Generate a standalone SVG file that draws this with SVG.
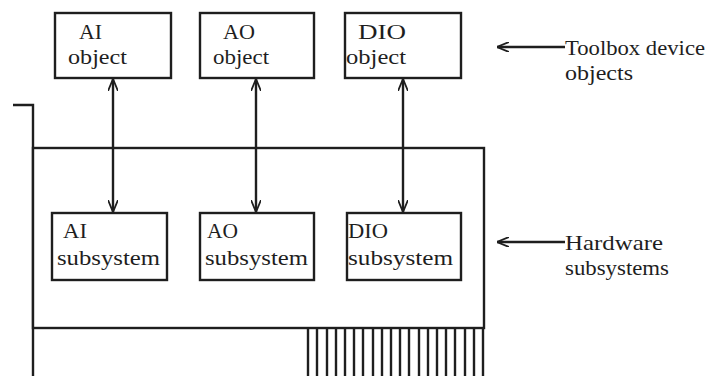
<svg xmlns="http://www.w3.org/2000/svg" width="723" height="376" viewBox="0 0 723 376">
<style>
.box{fill:#fff;stroke:#1e1e1e;stroke-width:2.4}
.ln{fill:none;stroke:#1e1e1e;stroke-width:2.4}
.pin{stroke:#1e1e1e;stroke-width:2.4}
text{font-family:"Liberation Serif","DejaVu Serif","Times New Roman",serif;font-size:21px;fill:#1e1e1e}
</style>
<defs>
<marker id="ah" viewBox="0 0 12 10" refX="12" refY="5" markerWidth="12" markerHeight="10" markerUnits="userSpaceOnUse" orient="auto-start-reverse">
<path d="M0,0 L12,5 L0,10" fill="none" stroke="#1e1e1e" stroke-width="1.8"/>
</marker>
</defs>
<g id="board">
<path class="ln" d="M13,105 H33 V376"/>
<rect class="box" x="33" y="148" width="451" height="180" fill="none"/>
<g id="pins">
<line class="pin" x1="308" y1="328" x2="308" y2="376"/>
<line class="pin" x1="317" y1="328" x2="317" y2="376"/>
<line class="pin" x1="327" y1="328" x2="327" y2="376"/>
<line class="pin" x1="336" y1="328" x2="336" y2="376"/>
<line class="pin" x1="345" y1="328" x2="345" y2="376"/>
<line class="pin" x1="354" y1="328" x2="354" y2="376"/>
<line class="pin" x1="363" y1="328" x2="363" y2="376"/>
<line class="pin" x1="373" y1="328" x2="373" y2="376"/>
<line class="pin" x1="382" y1="328" x2="382" y2="376"/>
<line class="pin" x1="391" y1="328" x2="391" y2="376"/>
<line class="pin" x1="400" y1="328" x2="400" y2="376"/>
<line class="pin" x1="409" y1="328" x2="409" y2="376"/>
<line class="pin" x1="419" y1="328" x2="419" y2="376"/>
<line class="pin" x1="428" y1="328" x2="428" y2="376"/>
<line class="pin" x1="437" y1="328" x2="437" y2="376"/>
<line class="pin" x1="446" y1="328" x2="446" y2="376"/>
<line class="pin" x1="455" y1="328" x2="455" y2="376"/>
<line class="pin" x1="465" y1="328" x2="465" y2="376"/>
<line class="pin" x1="474" y1="328" x2="474" y2="376"/>
<line class="pin" x1="483" y1="328" x2="483" y2="376"/>
</g>
</g>
<g id="ai-object">
<rect class="box" x="55" y="13" width="116" height="65"/>
<text x="79" y="39" textLength="23" lengthAdjust="spacingAndGlyphs">AI</text>
<text x="68" y="64" textLength="59" lengthAdjust="spacingAndGlyphs">object</text>
</g>
<g id="ao-object">
<rect class="box" x="200" y="13" width="114" height="65"/>
<text x="223" y="39" textLength="32" lengthAdjust="spacingAndGlyphs">AO</text>
<text x="213" y="64" textLength="56" lengthAdjust="spacingAndGlyphs">object</text>
</g>
<g id="dio-object">
<rect class="box" x="345" y="13" width="116" height="65"/>
<text x="358" y="39" textLength="48" lengthAdjust="spacingAndGlyphs">DIO</text>
<text x="346" y="64" textLength="60" lengthAdjust="spacingAndGlyphs">object</text>
</g>
<g id="ai-subsystem">
<rect class="box" x="52" y="213" width="115" height="67"/>
<text x="63" y="238" textLength="24" lengthAdjust="spacingAndGlyphs">AI</text>
<text x="57" y="265" textLength="103" lengthAdjust="spacingAndGlyphs">subsystem</text>
</g>
<g id="ao-subsystem">
<rect class="box" x="200" y="213" width="114" height="67"/>
<text x="207" y="238" textLength="31" lengthAdjust="spacingAndGlyphs">AO</text>
<text x="205" y="265" textLength="103" lengthAdjust="spacingAndGlyphs">subsystem</text>
</g>
<g id="dio-subsystem">
<rect class="box" x="347" y="213" width="114" height="67"/>
<text x="348" y="238" textLength="40" lengthAdjust="spacingAndGlyphs">DIO</text>
<text x="348" y="265" textLength="105" lengthAdjust="spacingAndGlyphs">subsystem</text>
</g>
<g id="labels">
<text x="565" y="55" textLength="140" lengthAdjust="spacingAndGlyphs">Toolbox device</text>
<text x="565" y="80" textLength="68" lengthAdjust="spacingAndGlyphs">objects</text>
<text x="565" y="250" textLength="98" lengthAdjust="spacingAndGlyphs">Hardware</text>
<text x="565" y="275" textLength="104" lengthAdjust="spacingAndGlyphs">subsystems</text>
</g>
<g id="connectors">
<line class="ln" x1="113" y1="79" x2="113" y2="212" marker-start="url(#ah)" marker-end="url(#ah)"/>
<line class="ln" x1="256" y1="79" x2="256" y2="212" marker-start="url(#ah)" marker-end="url(#ah)"/>
<line class="ln" x1="403" y1="79" x2="403" y2="212" marker-start="url(#ah)" marker-end="url(#ah)"/>
<line class="ln" x1="565" y1="47" x2="497" y2="47" stroke-width="1.8" marker-end="url(#ah)"/>
<line class="ln" x1="565" y1="242" x2="497" y2="242" stroke-width="1.8" marker-end="url(#ah)"/>
</g>
</svg>
